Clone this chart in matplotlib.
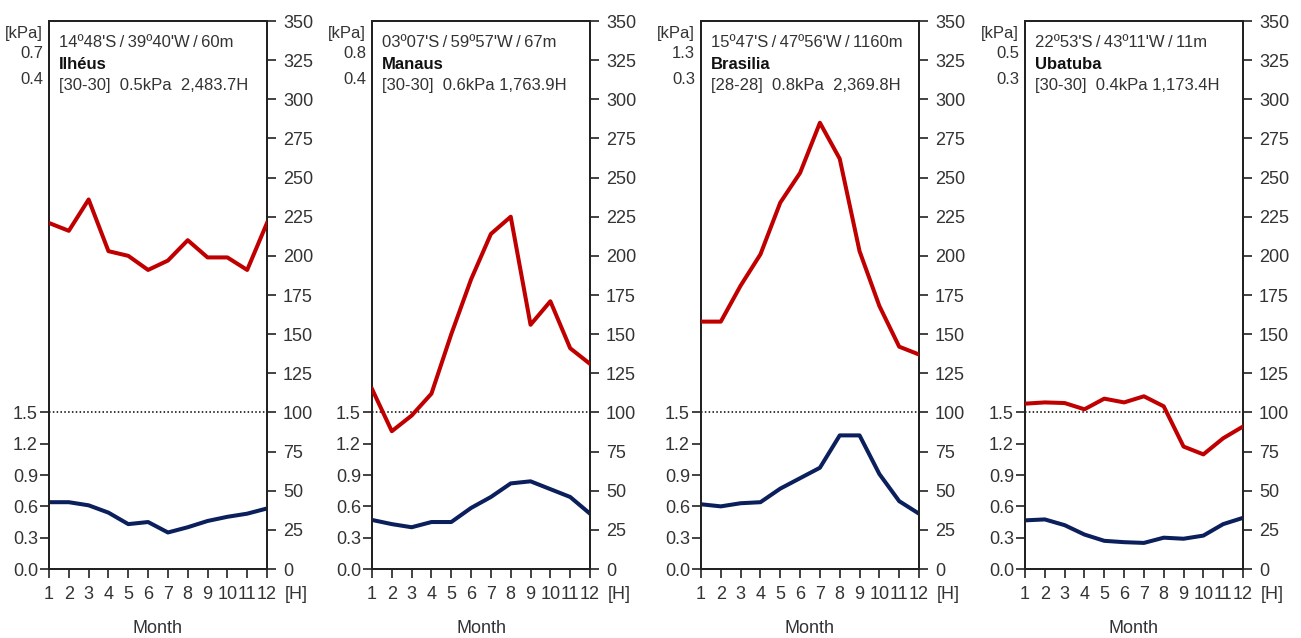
import numpy as np
import matplotlib
matplotlib.use("Agg")
import matplotlib.pyplot as plt

# ---------------- data ----------------
months = list(range(1, 13))
month_labels = [str(m) for m in months]

stations = ["Ilhéus", "Manaus", "Brasilia", "Ubatuba"]
coords = ["14º48'S\u2009/\u200939º40'W\u2009/\u200960m", "03º07'S\u2009/\u200959º57'W\u2009/\u200967m",
          "15º47'S\u2009/\u200947º56'W\u2009/\u20091160m", "22º53'S\u2009/\u200943º11'W\u2009/\u200911m"]
info = ["[30-30]  0.5kPa  2,483.7H", "[30-30]  0.6kPa 1,763.9H",
        "[28-28]  0.8kPa  2,369.8H", "[30-30]  0.4kPa 1,173.4H"]
kpa_marks = [("0.7", "0.4"), ("0.8", "0.4"), ("1.3", "0.3"), ("0.5", "0.3")]

ilheus_h = [221, 216, 236, 203, 200, 191, 197, 210, 199, 199, 191, 221]
ilheus_kpa = [0.64, 0.64, 0.61, 0.54, 0.43, 0.45, 0.35, 0.40, 0.46, 0.50, 0.53, 0.58]
manaus_h = [115, 88, 98, 112, 150, 185, 214, 225, 156, 171, 141, 131]
manaus_kpa = [0.47, 0.43, 0.40, 0.45, 0.45, 0.585, 0.69, 0.82, 0.84, 0.765, 0.69, 0.53]
brasilia_h = [158, 158, 181, 201, 234, 253, 285, 262, 203, 168, 142, 137]
brasilia_kpa = [0.62, 0.60, 0.63, 0.64, 0.77, 0.87, 0.97, 1.28, 1.28, 0.91, 0.65, 0.53]
ubatuba_h = [105.6, 106.4, 106, 102, 108.8, 106.4, 110.3, 103.9, 78.2, 73.2, 83.5, 91]
ubatuba_kpa = [0.466, 0.475, 0.42, 0.33, 0.27, 0.257, 0.25, 0.30, 0.29, 0.32, 0.43, 0.49]

hours = [ilheus_h, manaus_h, brasilia_h, ubatuba_h]
kpas = [ilheus_kpa, manaus_kpa, brasilia_kpa, ubatuba_kpa]

kpa_ticks = [0.0, 0.3, 0.6, 0.9, 1.2, 1.5]
h_ticks = list(range(0, 351, 25))

# ---------------- style ----------------
plt.rcParams["font.family"] = ["Liberation Sans", "DejaVu Sans"]

TICK_FS = 13
TXT_FS = 12
MONTH_FS = 13

RED = "#C00000"
BLUE = "#0A1F5C"
TXT = "#333333"

W, H = 1301, 638
fig = plt.figure(figsize=(W / 100, H / 100), dpi=100)

lefts = [49, 372, 701, 1025]
ax_w = 218
ax_top, ax_bot = 21, 569

for i in range(4):
    l = lefts[i]
    ax = fig.add_axes([l / W, (H - ax_bot) / H, ax_w / W, (ax_bot - ax_top) / H])
    ax2 = ax.twinx()
    ax.set_xlim(1, 12)
    ax.set_ylim(0, 5.25)
    ax2.set_ylim(0, 350)

    ax2.axhline(100, color="black", lw=1.1, ls=(0, (1, 1.5)), zorder=1)
    ax.plot(months, kpas[i], color=BLUE, lw=2.9, solid_joinstyle="round", zorder=3)
    ax2.plot(months, hours[i], color=RED, lw=2.9, solid_joinstyle="round", zorder=3)

    ax.set_xticks(months)
    ax.set_xticklabels(month_labels)
    ax.set_yticks(kpa_ticks)
    ax.set_yticklabels([f"{v:.1f}" for v in kpa_ticks])
    ax2.set_yticks(h_ticks)
    ax2.set_yticklabels([str(v) for v in h_ticks])

    for a in (ax, ax2):
        for sp in a.spines.values():
            sp.set_linewidth(1.4)
            sp.set_color("#222222")
        a.tick_params(direction="out", length=6.5, width=1.2, labelsize=TICK_FS,
                      colors="#222222", labelcolor=TXT)
    ax.tick_params(axis="y", pad=1.5)
    ax2.tick_params(axis="y", pad=5)
    ax.tick_params(axis="x", pad=6)

    # [H] after 12
    ax.text(1.133, -0.047, "[H]", transform=ax.transAxes, ha="center", va="center",
            fontsize=TICK_FS, color=TXT)
    ax.text(0.5, -0.108, "Month", transform=ax.transAxes, ha="center", va="center",
            fontsize=MONTH_FS, color=TXT)

    # kPa marks at top-left outside
    xr = -6 / ax_w
    ax.text(xr, 0.978, "[kPa]", transform=ax.transAxes, ha="right", va="center",
            fontsize=TXT_FS, color=TXT)
    ax.text(xr, 0.940, kpa_marks[i][0], transform=ax.transAxes, ha="right", va="center",
            fontsize=TXT_FS, color=TXT)
    ax.text(xr, 0.894, kpa_marks[i][1], transform=ax.transAxes, ha="right", va="center",
            fontsize=TXT_FS, color=TXT)

    # inner station text
    xt = 10 / ax_w
    ax.text(xt, 0.960, coords[i], transform=ax.transAxes, ha="left", va="center",
            fontsize=TXT_FS, color=TXT)
    ax.text(xt, 0.921, stations[i], transform=ax.transAxes, ha="left", va="center",
            fontsize=TXT_FS, color="#111111", fontweight="bold")
    ax.text(xt, 0.883, info[i], transform=ax.transAxes, ha="left", va="center",
            fontsize=TXT_FS, color=TXT)

fig.savefig("out.png", dpi=100, facecolor="white")
